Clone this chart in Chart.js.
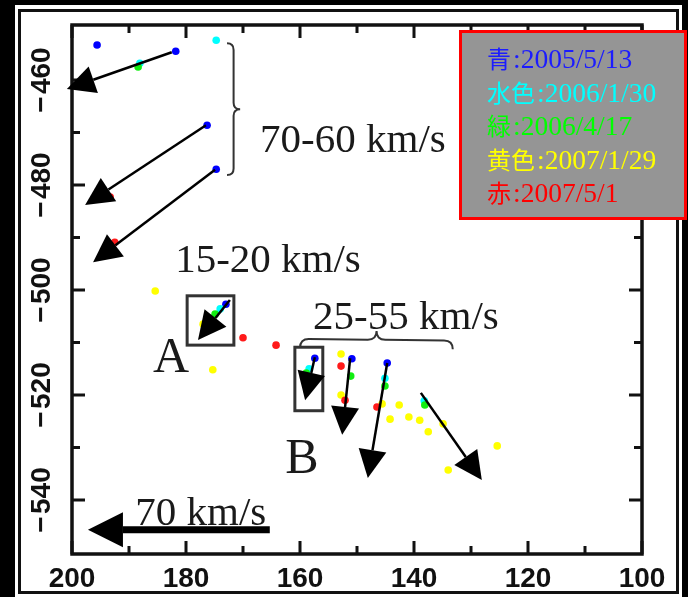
<!DOCTYPE html>
<html>
<head>
<meta charset="utf-8">
<script src="https://cdn.jsdelivr.net/npm/chart.js@4.4.1/dist/chart.umd.min.js"></script>
<style>
  html, body { margin: 0; padding: 0; background: #000; }
  #wrap { position: relative; width: 688px; height: 597px; overflow: hidden; background: #000; }
  #panel { position: absolute; left: 15px; top: 5px; width: 667px; height: 592px; background: #fff; }
  #frame { position: absolute; left: 18px; top: 9px; width: 655px; height: 579px; border: 3px solid #111; }
  #chart { position: absolute; left: 0; top: 0; }
</style>
</head>
<body>
<div id="wrap">
  <div id="panel"></div>
  <div id="frame"></div>
  <canvas id="chart" width="688" height="597"></canvas>
</div>
<script>
// axis ranges and labelled ticks
const xRange = [100, 200];
const yRange = [-550.3, -449.5];
const xLabelTicks = [200, 180, 160, 140, 120, 100];
const yLabelTicks = [-460, -480, -500, -520, -540];

// observed positions by date
const blueX = [195.6, 181.8, 176.3, 174.7, 173.0, 157.4, 150.9, 144.7];
const blueY = [-453.3, -454.5, -468.6, -477.0, -502.7, -513.0, -513.1, -513.9];
const cyanX = [174.7, 188.1, 174.0, 158.4, 145.1, 138.2];
const cyanY = [-452.4, -456.8, -503.6, -515.0, -516.8, -521.1];
const greenX = [188.4, 174.9, 158.9, 151.1, 145.1, 138.1];
const greenY = [-457.5, -504.6, -515.8, -516.4, -518.3, -521.9];
const yellowX = [185.4, 177.0, 175.3, 152.8, 152.8, 145.6, 142.6, 144.2, 140.9, 139.0, 137.5, 134.9, 125.4, 134.0];
const yellowY = [-500.2, -506.5, -515.2, -512.2, -520.0, -521.7, -521.9, -524.6, -524.2, -524.8, -527.0, -525.5, -529.7, -534.3];
const redX = [193.3, 192.5, 170.0, 164.2, 152.8, 152.1, 146.5];
const redY = [-482.3, -490.9, -509.1, -510.5, -514.5, -521.0, -522.3];

// motion arrows (tail -> tip)
const arrowTailX = [182.5, 176.5, 174.9, 172.3, 157.4, 151.2, 144.7, 138.8];
const arrowTailY = [-454.7, -468.6, -477.1, -501.9, -512.8, -513.0, -513.9, -519.6];
const arrowTipX = [200.9, 197.7, 196.3, 177.9, 159.1, 152.6, 148.1, 128.1];
const arrowTipY = [-461.7, -483.8, -494.7, -509.5, -521.0, -527.6, -535.8, -536.2];

// scale arrow "70 km/s"
const scaleArrowX = [165.3, 197.2];
const scaleArrowY = [-545.7, -545.7];

// boxes A and B
const boxX1 = [179.8, 160.9];
const boxX2 = [171.6, 156.0];
const boxY1 = [-501.1, -510.9];
const boxY2 = [-510.5, -523.0];

// annotation texts
const noteText = ['70-60 km/s', '15-20 km/s', '25-55 km/s', 'A', 'B', '70 km/s'];
const noteX = [167.0, 181.9, 157.7, 185.8, 162.6, 188.9];
const noteY = [-473.7, -496.6, -507.4, -515.6, -534.9, -544.8];

// braces: start, end, tip
const braceStartX = [172.8, 160.0];
const braceStartY = [-453.0, -511.0];
const braceEndX = [172.8, 133.2];
const braceEndY = [-478.1, -511.3];
const braceTipX = [170.5, 146.5];
const braceTipY = [-465.7, -507.8];

// legend
const legendLabels = ['青', '水色', '緑', '黄色', '赤'];
const legendDates = ['2005/5/13', '2006/1/30', '2006/4/17', '2007/1/29', '2007/5/1'];
const legendColors = ['#1c1cff', '#00ffff', '#00ff00', '#ffff00', '#ff0000'];

const zip = (xs, ys) => xs.map((v, i) => ({ x: v, y: ys[i] }));

function drawArrow(ctx, x1, y1, x2, y2, len, half, lw) {
  const a = Math.atan2(y2 - y1, x2 - x1);
  const bx = x2 - len * Math.cos(a), by = y2 - len * Math.sin(a);
  ctx.lineWidth = lw;
  ctx.beginPath(); ctx.moveTo(x1, y1); ctx.lineTo(bx, by); ctx.stroke();
  ctx.beginPath();
  ctx.moveTo(x2, y2);
  ctx.lineTo(bx + half * Math.sin(a), by - half * Math.cos(a));
  ctx.lineTo(bx - half * Math.sin(a), by + half * Math.cos(a));
  ctx.closePath(); ctx.fill();
}

function drawBrace(ctx, ax, ay, bx, by, tx, ty) {
  const L = Math.hypot(bx - ax, by - ay);
  const ux = (bx - ax) / L, uy = (by - ay) / L;
  let nx = -uy, ny = ux;
  const mx = (ax + bx) / 2, my = (ay + by) / 2;
  let d = (tx - mx) * nx + (ty - my) * ny;
  if (d < 0) { nx = -nx; ny = -ny; d = -d; }
  const r = d / 2;
  ctx.beginPath();
  ctx.moveTo(ax, ay);
  ctx.quadraticCurveTo(ax + nx * r, ay + ny * r, ax + ux * r + nx * r, ay + uy * r + ny * r);
  ctx.lineTo(mx - ux * r + nx * r, my - uy * r + ny * r);
  ctx.quadraticCurveTo(mx + nx * r, my + ny * r, mx + nx * d, my + ny * d);
  ctx.quadraticCurveTo(mx + nx * r, my + ny * r, mx + ux * r + nx * r, my + uy * r + ny * r);
  ctx.lineTo(bx - ux * r + nx * r, by - uy * r + ny * r);
  ctx.quadraticCurveTo(bx + nx * r, by + ny * r, bx, by);
  ctx.stroke();
}

const decor = {
  id: 'decor',
  afterDatasetsDraw(chart) {
    const { ctx, chartArea: a, scales: { x, y } } = chart;
    ctx.save();

    // plot border
    ctx.strokeStyle = '#111';
    ctx.lineWidth = 3.5;
    ctx.strokeRect(a.left, a.top, a.right - a.left, a.bottom - a.top);

    // inward ticks on all four sides
    ctx.lineWidth = 3;
    x.ticks.forEach(t => {
      if (t.value % 10 !== 0) return;
      const px = x.getPixelForValue(t.value);
      const len = t.value % 20 === 0 ? 13 : 8;
      ctx.beginPath();
      ctx.moveTo(px, a.bottom); ctx.lineTo(px, a.bottom - len);
      ctx.moveTo(px, a.top); ctx.lineTo(px, a.top + len);
      ctx.stroke();
    });
    y.ticks.forEach(t => {
      if (t.value % 10 !== 0) return;
      const py = y.getPixelForValue(t.value);
      const len = t.value % 20 === 0 ? 13 : 8;
      ctx.beginPath();
      ctx.moveTo(a.left, py); ctx.lineTo(a.left + len, py);
      ctx.moveTo(a.right, py); ctx.lineTo(a.right - len, py);
      ctx.stroke();
    });

    // tick labels
    ctx.fillStyle = '#111';
    ctx.font = 'bold 28px "Liberation Sans", Arial, sans-serif';
    ctx.textAlign = 'center';
    ctx.textBaseline = 'middle';
    xLabelTicks.forEach(v => {
      ctx.fillText(String(v), x.getPixelForValue(v), a.bottom + 25);
    });
    yLabelTicks.forEach(v => {
      ctx.save();
      ctx.translate(a.left - 30, y.getPixelForValue(v));
      ctx.rotate(-Math.PI / 2);
      ctx.fillText('\u2212\u200a' + Math.abs(v), 0, 0);
      ctx.restore();
    });

    // boxes
    ctx.strokeStyle = '#333';
    ctx.lineWidth = 3;
    boxX1.forEach((v, i) => {
      const x1 = x.getPixelForValue(v), x2 = x.getPixelForValue(boxX2[i]);
      const y1 = y.getPixelForValue(boxY1[i]), y2 = y.getPixelForValue(boxY2[i]);
      ctx.strokeRect(x1, y1, x2 - x1, y2 - y1);
    });

    // arrows
    ctx.strokeStyle = '#000';
    ctx.fillStyle = '#000';
    arrowTailX.forEach((v, i) => {
      drawArrow(ctx, x.getPixelForValue(v), y.getPixelForValue(arrowTailY[i]),
        x.getPixelForValue(arrowTipX[i]), y.getPixelForValue(arrowTipY[i]), 28, 14, 2.5);
    });
    drawArrow(ctx, x.getPixelForValue(scaleArrowX[0]), y.getPixelForValue(scaleArrowY[0]),
      x.getPixelForValue(scaleArrowX[1]), y.getPixelForValue(scaleArrowY[1]), 35, 17.5, 7);

    // braces
    ctx.strokeStyle = '#333';
    ctx.lineWidth = 2;
    braceStartX.forEach((v, i) => {
      drawBrace(ctx, x.getPixelForValue(v), y.getPixelForValue(braceStartY[i]),
        x.getPixelForValue(braceEndX[i]), y.getPixelForValue(braceEndY[i]),
        x.getPixelForValue(braceTipX[i]), y.getPixelForValue(braceTipY[i]));
    });

    // annotation texts
    ctx.fillStyle = '#1a1a1a';
    ctx.textAlign = 'left';
    ctx.textBaseline = 'alphabetic';
    noteText.forEach((s, i) => {
      const big = s.length === 1;
      ctx.font = (big ? '50px' : '41px') + ' "Liberation Serif", "Times New Roman", serif';
      ctx.fillText(s, x.getPixelForValue(noteX[i]), y.getPixelForValue(noteY[i]));
    });

    // legend box
    const lx = 459, ly = 30, lw = 228, lh = 190;
    ctx.fillStyle = '#959595';
    ctx.fillRect(lx, ly, lw, lh);
    ctx.strokeStyle = '#ff0000';
    ctx.lineWidth = 3;
    ctx.strokeRect(lx + 1.5, ly + 1.5, lw - 3, lh - 3);
    legendLabels.forEach((lab, i) => {
      const base = ly + 38 + i * 33.5;
      let cx = lx + 28;
      ctx.fillStyle = legendColors[i];
      ctx.font = '24px "Noto Sans CJK JP", sans-serif';
      ctx.fillText(lab, cx, base);
      cx += ctx.measureText(lab).width + 2;
      ctx.font = '27.5px "Liberation Serif", "Times New Roman", serif';
      ctx.fillText(':' + legendDates[i], cx, base);
    });

    ctx.restore();
  }
};

const dot = (label, xs, ys, color) => ({
  label, data: zip(xs, ys), backgroundColor: color, borderWidth: 0, pointRadius: 3.8
});

new Chart(document.getElementById('chart'), {
  type: 'scatter',
  data: {
    datasets: [
      dot('red', redX, redY, '#ff1a1a'),
      dot('yellow', yellowX, yellowY, '#ffff00'),
      dot('green', greenX, greenY, '#11ee11'),
      dot('cyan', cyanX, cyanY, '#00ffff'),
      dot('blue', blueX, blueY, '#0000ff')
    ]
  },
  options: {
    responsive: false,
    animation: false,
    devicePixelRatio: 1,
    clip: false,
    layout: { padding: { left: 72, top: 25, right: 46, bottom: 43 } },
    scales: {
      x: { type: 'linear', reverse: true, min: xRange[0], max: xRange[1], display: false, ticks: { stepSize: 10 } },
      y: { type: 'linear', min: yRange[0], max: yRange[1], display: false, ticks: { stepSize: 10 } }
    },
    plugins: { legend: { display: false }, tooltip: { enabled: false } }
  },
  plugins: [decor]
});
</script>
</body>
</html>
